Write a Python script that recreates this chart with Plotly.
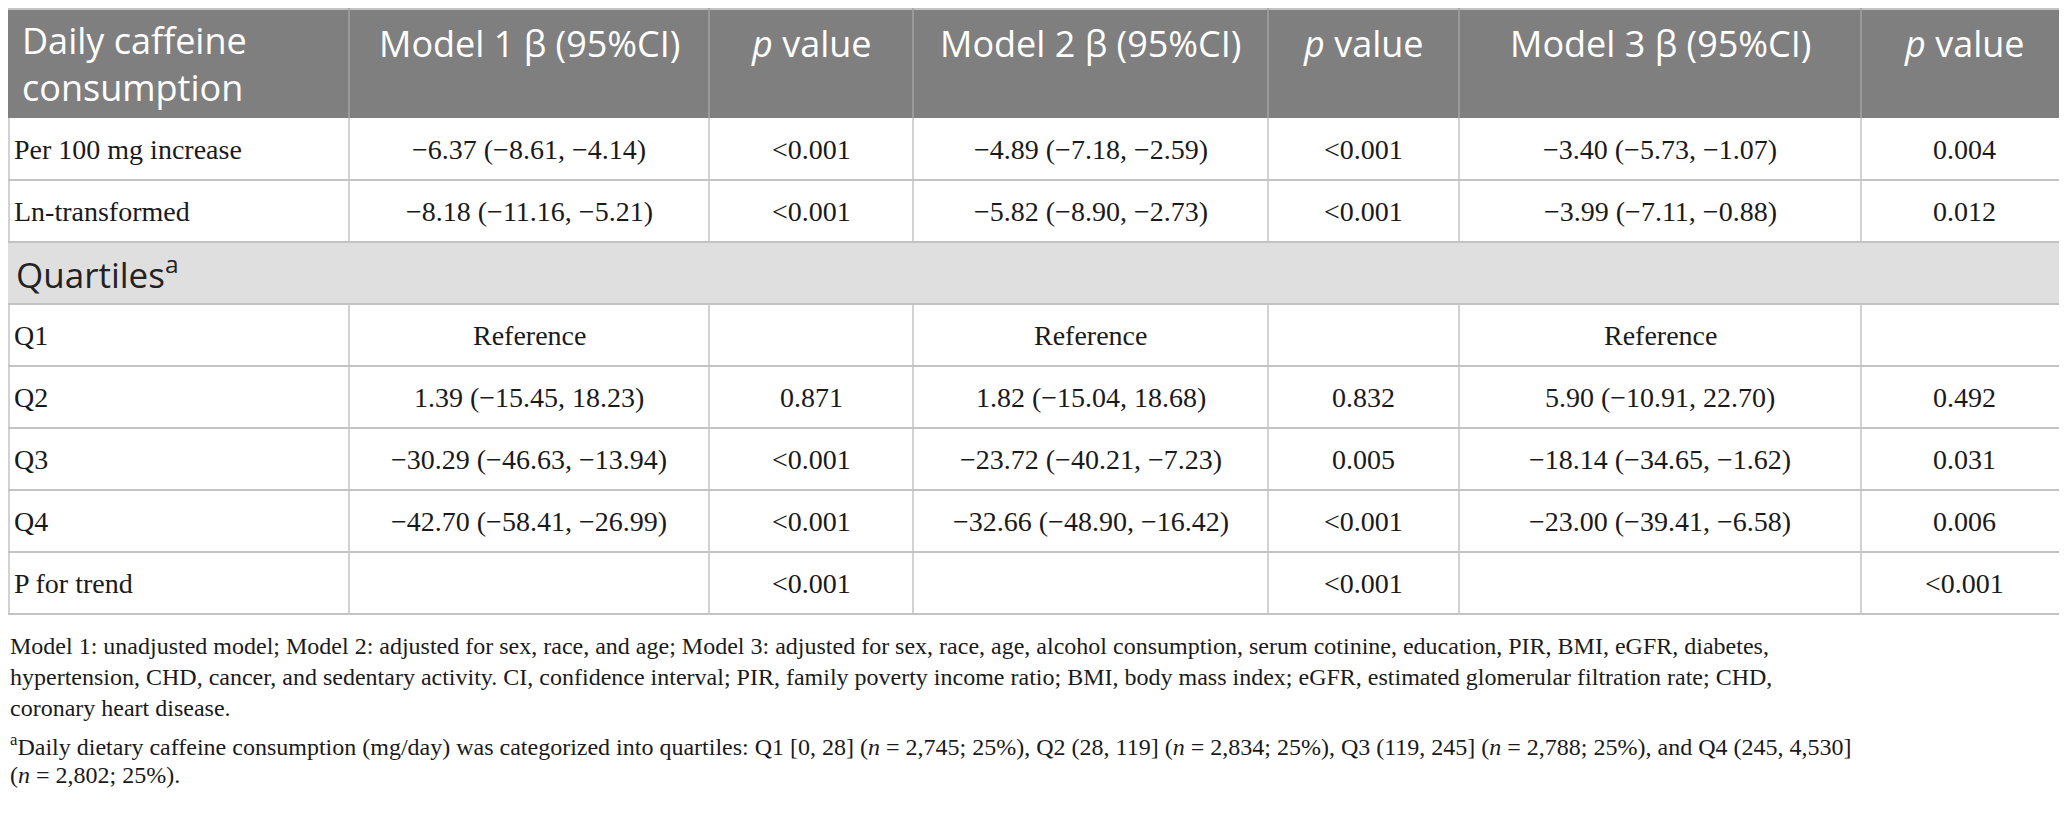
import plotly.graph_objects as go

# ---- data ----
header_cols = ["Daily caffeine<br>consumption", "Model 1 β (95%CI)", "<i>p</i> value",
               "Model 2 β (95%CI)", "<i>p</i> value", "Model 3 β (95%CI)", "<i>p</i> value"]
row_labels = ["Per 100 mg increase", "Ln-transformed", "Q1", "Q2", "Q3", "Q4", "P for trend"]
m1_beta = ["−6.37 (−8.61, −4.14)", "−8.18 (−11.16, −5.21)", "Reference", "1.39 (−15.45, 18.23)",
           "−30.29 (−46.63, −13.94)", "−42.70 (−58.41, −26.99)", ""]
m1_p = ["<0.001", "<0.001", "", "0.871", "<0.001", "<0.001", "<0.001"]
m2_beta = ["−4.89 (−7.18, −2.59)", "−5.82 (−8.90, −2.73)", "Reference", "1.82 (−15.04, 18.68)",
           "−23.72 (−40.21, −7.23)", "−32.66 (−48.90, −16.42)", ""]
m2_p = ["<0.001", "<0.001", "", "0.832", "0.005", "<0.001", "<0.001"]
m3_beta = ["−3.40 (−5.73, −1.07)", "−3.99 (−7.11, −0.88)", "Reference", "5.90 (−10.91, 22.70)",
           "−18.14 (−34.65, −1.62)", "−23.00 (−39.41, −6.58)", ""]
m3_p = ["0.004", "0.012", "", "0.492", "0.031", "0.006", "<0.001"]
group_label = "Quartiles<sup>a</sup>"
group_after = 2  # group row inserted after the first two data rows

footnotes = [
    "Model 1: unadjusted model; Model 2: adjusted for sex, race, and age; Model 3: adjusted for sex, race, age, alcohol consumption, serum cotinine, education, PIR, BMI, eGFR, diabetes,",
    "hypertension, CHD, cancer, and sedentary activity. CI, confidence interval; PIR, family poverty income ratio; BMI, body mass index; eGFR, estimated glomerular filtration rate; CHD,",
    "coronary heart disease.",
    "<sup>a</sup>Daily dietary caffeine consumption (mg/day) was categorized into quartiles: Q1 [0, 28] (<i>n</i> = 2,745; 25%), Q2 (28, 119] (<i>n</i> = 2,834; 25%), Q3 (119, 245] (<i>n</i> = 2,788; 25%), and Q4 (245, 4,530]",
    "(<i>n</i> = 2,802; 25%).",
]

# ---- layout geometry (page pixel coordinates) ----
W, H = 2067, 823
PAGE_OFF = 8  # browser body margin
col_edges = [0, 349, 709, 913, 1268, 1459, 1861, 2067]
table_top = 8
header_bottom = 118
row_h = 62
foot_y = [646, 677, 708, 745, 775]

HEAD_FILL = "#7f7f7f"
GROUP_FILL = "#e0dfe0"
LINE = "#c3c3c3"
HEAD_LINE = "#a3a3a3"
SANS = "Open Sans"
SERIF = "Liberation Serif"
BODY = 28
HEAD = 36

def esc(s):
    return s.replace("<0", "&lt;0")

fig = go.Figure()
shapes = []
ann = []

# header background
shapes.append(dict(type="rect", x0=0, x1=W, y0=table_top, y1=header_bottom,
                   fillcolor=HEAD_FILL, line=dict(width=0), layer="below"))
shapes.append(dict(type="line", x0=0, x1=W, y0=table_top + 1, y1=table_top + 1, line=dict(color=LINE, width=2)))
for xe in col_edges[1:-1]:
    shapes.append(dict(type="line", x0=xe, x1=xe, y0=table_top, y1=header_bottom,
                       line=dict(color=HEAD_LINE, width=1.5)))

# header text
for i, h in enumerate(header_cols):
    if i == 0:
        ann.append(dict(x=col_edges[0] + 20, y=64, text=h, xanchor="left", yanchor="middle", align="left",
                        font=dict(family=SANS, size=HEAD, color="white"), showarrow=False))
    else:
        ann.append(dict(x=(col_edges[i] + col_edges[i + 1]) / 2, y=43, text=h, xanchor="center",
                        yanchor="middle", font=dict(family=SANS, size=HEAD, color="white"), showarrow=False))

# body rows
data_cols = [m1_beta, m1_p, m2_beta, m2_p, m3_beta, m3_p]
n_rows = len(row_labels) + 1
r = 0
for vis in range(n_rows):
    y0 = header_bottom + vis * row_h
    y1 = y0 + row_h
    yc = (y0 + y1) / 2
    if vis == group_after:
        shapes.append(dict(type="rect", x0=0, x1=W, y0=y0, y1=y1, fillcolor=GROUP_FILL,
                           line=dict(width=0), layer="below"))
        ann.append(dict(x=14, y=yc - 1, text=group_label, xanchor="left", yanchor="middle",
                        font=dict(family=SANS, size=35, color="#222222"), showarrow=False))
    else:
        ann.append(dict(x=12, y=yc, text=row_labels[r], xanchor="left", yanchor="middle",
                        font=dict(family=SERIF, size=BODY, color="#1a1a1a"), showarrow=False))
        for c, col in enumerate(data_cols):
            txt = col[r]
            if txt:
                ann.append(dict(x=(col_edges[c + 1] + col_edges[c + 2]) / 2, y=yc, text=esc(txt),
                                xanchor="center", yanchor="middle",
                                font=dict(family=SERIF, size=BODY, color="#1a1a1a"), showarrow=False))
        for xe in col_edges:
            xx = min(max(xe, PAGE_OFF + 1), W - 1)
            shapes.append(dict(type="line", x0=xx, x1=xx, y0=y0, y1=y1, line=dict(color=LINE, width=1.5)))
        r += 1
    shapes.append(dict(type="line", x0=0, x1=W, y0=y1, y1=y1, line=dict(color=LINE, width=2)))

# footnotes
for k, t in enumerate(footnotes):
    ann.append(dict(x=PAGE_OFF, y=foot_y[k], text=t, xanchor="left", yanchor="middle",
                    font=dict(family=SERIF, size=24, color="#1a1a1a"), showarrow=False))

fig.update_layout(
    width=W - PAGE_OFF, height=H - PAGE_OFF, margin=dict(l=0, r=0, t=0, b=0, pad=0),
    paper_bgcolor="white", plot_bgcolor="white",
    xaxis=dict(range=[PAGE_OFF, W], visible=False, fixedrange=True),
    yaxis=dict(range=[H, PAGE_OFF], visible=False, fixedrange=True),
    shapes=shapes, annotations=ann, showlegend=False,
)
fig.write_html("out.html")
